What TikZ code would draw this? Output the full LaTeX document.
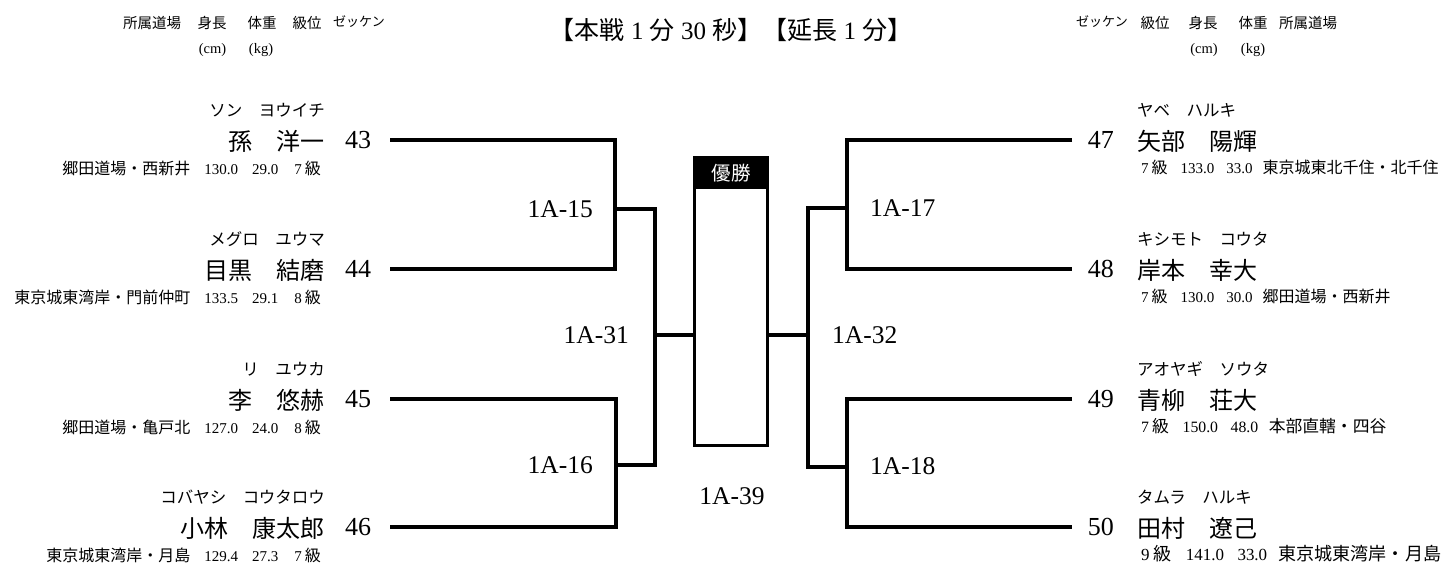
\documentclass[tikz,border=0pt]{standalone}
\usepackage{graphicx}
\usepackage{fontspec}
\setmainfont{Liberation Serif}
\newfontfamily\jp{Noto Sans CJK JP}
\newcommand\J[1]{{\jp\fontsize{16}{16}\selectfont #1}}
\newcommand\T[1]{{\jp #1}}
\tikzset{
  sKana/.style={font=\jp\fontsize{16.5}{16.5}\selectfont, inner sep=0pt},
  sName/.style={font=\jp\fontsize{24}{24}\selectfont, inner sep=0pt},
  sInfo/.style={font=\fontsize{15}{15}\selectfont, inner sep=0pt},
  sNum/.style={font=\fontsize{26}{26}\selectfont, inner sep=0pt},
  sCode/.style={font=\fontsize{25.5}{25.5}\selectfont, inner sep=0pt},
  sHdr/.style={font=\jp\fontsize{14.5}{14.5}\selectfont, inner sep=0pt},
  sHdrS/.style={font=\jp\fontsize{13}{13}\selectfont, inner sep=0pt},
  sUnit/.style={font=\fontsize{14.5}{14.5}\selectfont, inner sep=0pt},
  sLine/.style={line width=3.3pt, line join=miter},
}
\newcommand\lplayer[5]{%
  \node[sNum,anchor=west] (n#1) at (345,#2) {#1};
  \node[sKana,anchor=east,yshift=30pt] (k#1) at (325,#2) {#3};
  \node[sName,anchor=east,yshift=-1pt] (m#1) at (325,#2) {#4};
  \node[sInfo,anchor=east,yshift=-28pt] (i#1) at (321,#2) {#5};
  \coordinate (e#1) at (390,#2);
}
\newcommand\rplayer[5]{%
  \node[sNum,anchor=east] (n#1) at (1114,#2) {#1};
  \node[sKana,anchor=west,yshift=30pt] (k#1) at (1137,#2) {#3};
  \node[sName,anchor=west,yshift=-1pt] (m#1) at (1137,#2) {#4};
  \node[sInfo,anchor=west,yshift=-27pt] (i#1) at (1141,#2) {#5};
  \coordinate (e#1) at (1072,#2);
}
\newcommand\linfo[4]{\J{#1}\hspace{14pt}#2\hspace{14pt}#3\hspace{16pt}#4\hspace{3pt}\J{級}}
\newcommand\rinfo[4]{#1\hspace{3pt}\J{級}\hspace{13pt}#2\hspace{12pt}#3\hspace{10pt}\J{#4}}
\begin{document}
\begin{tikzpicture}[x=1pt,y=-1pt]
\path[fill=white,use as bounding box] (0,0) rectangle (1452,563);

% headers
\node[sHdr] (hl1) at (152,23) {所属道場};
\node[sHdr] (hl2) at (212,23) {身長};
\node[sHdr] (hl3) at (262,23) {体重};
\node[sHdr] (hl4) at (307,23) {級位};
\node[sHdrS] (hl5) at (359,22) {ゼッケン};
\node[sUnit] (ul1) at (212.5,50) {(cm)};
\node[sUnit] (ul2) at (261,50) {(kg)};

\node[sHdrS] (hr1) at (1102,22) {ゼッケン};
\node[sHdr] (hr2) at (1155,23) {級位};
\node[sHdr] (hr3) at (1203,23) {身長};
\node[sHdr] (hr4) at (1253,23) {体重};
\node[sHdr] (hr5) at (1308,23) {所属道場};
\node[sUnit] (ur1) at (1204,50) {(cm)};
\node[sUnit] (ur2) at (1253,50) {(kg)};

\node[font=\fontsize{25}{25}\selectfont, inner sep=0pt] (title) at (731,30)
  {\T{【本戦} 1 \T{分} 30 \T{秒】【延長} 1 \T{分】}};

% players
\lplayer{43}{140}{ソン　ヨウイチ}{孫　洋一}{\linfo{郷田道場・西新井}{130.0}{29.0}{7}}
\lplayer{44}{269}{メグロ　ユウマ}{目黒　結磨}{\linfo{東京城東湾岸・門前仲町}{133.5}{29.1}{8}}
\lplayer{45}{399}{リ　ユウカ}{李　悠赫}{\linfo{郷田道場・亀戸北}{127.0}{24.0}{8}}
\lplayer{46}{527}{コバヤシ　コウタロウ}{小林　康太郎}{\linfo{東京城東湾岸・月島}{129.4}{27.3}{7}}
\rplayer{47}{140}{ヤベ　ハルキ}{矢部　陽輝}{\rinfo{7}{133.0}{33.0}{東京城東北千住・北千住}}
\rplayer{48}{269}{キシモト　コウタ}{岸本　幸大}{\rinfo{7}{130.0}{30.0}{郷田道場・西新井}}
\rplayer{49}{399}{アオヤギ　ソウタ}{青柳　荘大}{\scalebox{1.05}{\rinfo{7}{150.0}{48.0}{本部直轄・四谷}}}
\rplayer{50}{527}{タムラ　ハルキ}{田村　遼己}{\scalebox{1.13}{\rinfo{9}{141.0}{33.0}{東京城東湾岸・月島}}}

% winner box
\node[draw, line width=3.3pt, minimum width=73pt, minimum height=286pt, inner sep=0pt, anchor=north] (win) at (731,157.6) {};
\node[fill=black, minimum width=76.3pt, minimum height=33pt, inner sep=0pt, anchor=north, text=white, font=\jp\fontsize{19.5}{19.5}\selectfont] (winhead) at (731,156) {優勝};

% junctions
\coordinate (j15) at (615,209);
\coordinate (j16) at (616,465);
\coordinate (j31) at (655,335);
\coordinate (j17) at (847,208);
\coordinate (j18) at (847,467);
\coordinate (j32) at (808,335);

% left bracket
\draw[sLine] (e43) -| (j15) |- (e44);
\draw[sLine] (e45) -| (j16) |- (e46);
\draw[sLine] (j15) -| (j31) |- (j16);
\draw[sLine] (j31) -- (j31 -| win.west);
% right bracket
\draw[sLine] (e47) -| (j17) |- (e48);
\draw[sLine] (e49) -| (j18) |- (e50);
\draw[sLine] (j17) -| (j32) |- (j18);
\draw[sLine] (j32) -- (j32 -| win.east);

% match codes
\node[sCode,anchor=east] (c15) at (593,209) {1A-15};
\node[sCode,anchor=east] (c16) at (593,465) {1A-16};
\node[sCode,anchor=east] (c31) at (629,335) {1A-31};
\node[sCode] (c39) at (732,496) {1A-39};
\node[sCode,anchor=west] (c17) at (870,208) {1A-17};
\node[sCode,anchor=west] (c32) at (832,335) {1A-32};
\node[sCode,anchor=west] (c18) at (870,466) {1A-18};
\end{tikzpicture}
\end{document}
